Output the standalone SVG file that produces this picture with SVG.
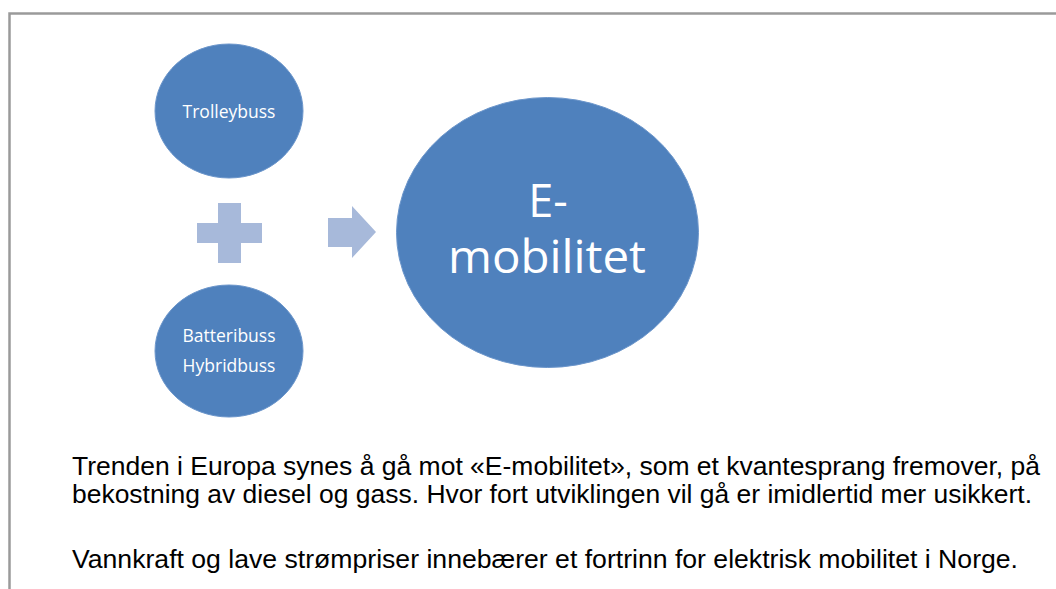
<svg xmlns="http://www.w3.org/2000/svg" width="1056" height="589" viewBox="0 0 1056 589">
<style>
.node{fill:#4F81BD;stroke:#6C96CB;stroke-width:1}
.sym{fill:#A7B9DA}
.lbl{font-family:"Open Sans","Noto Sans",sans-serif;fill:#FFFFFF;text-anchor:middle}
.body{font-family:"Liberation Sans",Arial,sans-serif;font-size:25.5px;fill:#000000}
</style>
<rect width="1056" height="589" fill="#FFFFFF"/>
<path d="M9.5 589 V13.5 H1056" fill="none" stroke="#9A9A9A" stroke-width="2.5"/>
<g id="trolleybuss">
<ellipse class="node" cx="229" cy="111" rx="74" ry="67"/>
<text class="lbl" x="229" y="118" font-size="17.5">Trolleybuss</text>
</g>
<g id="plus">
<path class="sym" d="M218 203 H241 V223 H262 V243 H241 V263 H218 V243 H197 V223 H218 Z"/>
</g>
<g id="batteribuss">
<ellipse class="node" cx="229" cy="351" rx="74" ry="66"/>
<text class="lbl" x="229" y="342" font-size="17.5">Batteribuss</text>
<text class="lbl" x="229" y="372" font-size="17.5">Hybridbuss</text>
</g>
<g id="connectors">
<path class="sym" d="M328 218 H352 V206 L376 232 L352 258 V247 H328 Z"/>
</g>
<g id="emobilitet">
<ellipse class="node" cx="547.5" cy="232.5" rx="151" ry="135"/>
<text class="lbl" x="548" y="217" font-size="45">E-</text>
<text class="lbl" x="547" y="273" font-size="45" textLength="198" lengthAdjust="spacingAndGlyphs">mobilitet</text>
</g>
<text class="body" x="72" y="475" textLength="968" lengthAdjust="spacingAndGlyphs">Trenden i Europa synes å gå mot «E-mobilitet», som et kvantesprang fremover, på</text>
<text class="body" x="72" y="503" textLength="960" lengthAdjust="spacingAndGlyphs">bekostning av diesel og gass. Hvor fort utviklingen vil gå er imidlertid mer usikkert.</text>
<text class="body" x="72" y="568" textLength="946" lengthAdjust="spacingAndGlyphs">Vannkraft og lave strømpriser innebærer et fortrinn for elektrisk mobilitet i Norge.</text>
</svg>
